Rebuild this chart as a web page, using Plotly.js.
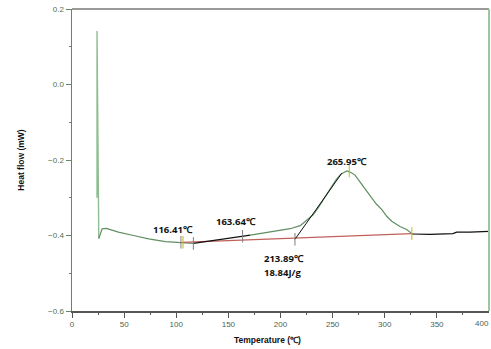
<!DOCTYPE html>
<html>
<head>
<meta charset="utf-8">
<script src="https://cdn.plot.ly/plotly-3.0.1.min.js"></script>
<style>html,body{margin:0;padding:0;background:#fff;}#chart{width:491px;height:349px;}</style>
</head>
<body>
<div id="chart"></div>
<script>
// DSC curve segments (Temperature ℃, Heat flow mW)
var spikeT = [24.0, 24.0, 25.7];
var spikeV = [-0.30, 0.142, -0.408];
var seg1T = [25.7, 28.9, 33, 44.5, 58.9, 73.6, 89.6, 102, 116.4];
var seg1V = [-0.408, -0.382, -0.381, -0.391, -0.400, -0.409, -0.416, -0.418, -0.421];
var seg2T = [116.4, 132.7, 147, 164, 171];
var seg2V = [-0.421, -0.414, -0.408, -0.402, -0.399];
var seg3T = [171, 180.5, 195, 209.3, 218.9, 225.3, 231.3, 236.1, 241.9, 247.6, 253.4, 258.1, 263.8, 266.8, 271.5, 278.3, 286, 291.7, 297.4, 301.9, 306.7, 314.6, 321, 326];
var seg3V = [-0.399, -0.395, -0.389, -0.382, -0.374, -0.360, -0.345, -0.327, -0.302, -0.274, -0.252, -0.237, -0.229, -0.232, -0.240, -0.266, -0.295, -0.316, -0.332, -0.349, -0.362, -0.376, -0.384, -0.395];
var seg4T = [326, 343.4, 365.4, 369, 381.8, 397.7, 400];
var seg4V = [-0.396, -0.397, -0.395, -0.391, -0.391, -0.389, -0.389];
// Baseline and tangent
var baseT = [105.5, 326];
var baseV = [-0.418, -0.395];
var tanT = [213.89, 258.8];
var tanV = [-0.410, -0.235];
// Marker ticks
var markBlackT = [104.5, 116.41, 163.64, 213.89];
var markBlackV = [-0.418, -0.421, -0.402, -0.410];
var markRedT = [106.5, 265.95, 326];
var markRedV = [-0.418, -0.229, -0.395];
// Labels
var labelText = ["116.41℃", "163.64℃", "265.95℃", "213.89℃", "18.84J/g"];
var labelT = [97.2, 157.6, 263.9, 182.5, 182.5];
var labelV = [-0.384, -0.362, -0.203, -0.461, -0.497];
var labelAnchor = ["center", "center", "center", "left", "left"];

var green = '#5f8f62';
var traces = [
  {x: spikeT, y: spikeV, mode: 'lines', line: {color: '#8fbf90', width: 1.4}},
  {x: seg1T, y: seg1V, mode: 'lines', line: {color: green, width: 1.2}},
  {x: baseT, y: baseV, mode: 'lines', line: {color: '#c0605a', width: 1.2}},
  {x: seg2T, y: seg2V, mode: 'lines', line: {color: '#111', width: 1.2}},
  {x: seg3T, y: seg3V, mode: 'lines', line: {color: green, width: 1.2}},
  {x: seg4T, y: seg4V, mode: 'lines', line: {color: '#111', width: 1.2}},
  {x: tanT, y: tanV, mode: 'lines', line: {color: '#111', width: 1.0}},
  {x: markBlackT, y: markBlackV, mode: 'markers', marker: {symbol: 'line-ns-open', size: 9, line: {color: '#111', width: 1}}},
  {x: markRedT, y: markRedV, mode: 'markers', marker: {symbol: 'line-ns-open', size: 9, line: {color: '#c0605a', width: 1}}}
];

var annotations = labelText.map(function (t, i) {
  return {x: labelT[i], y: labelV[i], xref: 'x', yref: 'y', text: '<b>' + t + '</b>', showarrow: false,
    xanchor: labelAnchor[i], yanchor: 'middle', font: {family: 'Open Sans, sans-serif', size: 9.5, color: '#111'}};
});
annotations.push({x: 400, y: 0, xref: 'x', yref: 'paper', yshift: -6, xshift: 2, text: '400', showarrow: false,
  xanchor: 'right', yanchor: 'top', font: {family: 'Liberation Sans, Arial, sans-serif', size: 8, color: '#4f5f4f'}});
annotations.push({x: 0.468, y: 0, xref: 'paper', yref: 'paper', yshift: -22, text: '<b>Temperature (℃)</b>', showarrow: false,
  xanchor: 'center', yanchor: 'top', font: {family: 'Liberation Sans, Arial, sans-serif', size: 8.5, color: '#111'}});

var layout = {
  width: 491, height: 349,
  margin: {l: 72, r: 2, t: 9, b: 38},
  paper_bgcolor: '#fff', plot_bgcolor: '#fff',
  showlegend: false,
  xaxis: {
    range: [0, 400], tickvals: [0, 50, 100, 150, 200, 250, 300, 350], showgrid: false, zeroline: false,
    showline: true, linecolor: '#555', linewidth: 1.5,
    ticks: 'outside', ticklen: 5, tickcolor: '#555', tickwidth: 1,
    minor: {tickvals: [25, 75, 125, 175, 225, 275, 325, 375], ticks: 'outside', ticklen: 2, tickcolor: '#555'},
    tickfont: {family: 'Liberation Sans, Arial, sans-serif', size: 8, color: '#4f5f4f'}
  },
  yaxis: {
    range: [-0.6, 0.2], dtick: 0.2, tick0: -0.6, tickformat: '.1f', showgrid: false, zeroline: false,
    showline: true, linecolor: '#5f8a68', linewidth: 1.5,
    ticks: 'outside', ticklen: 5, tickcolor: '#5f8a68', tickwidth: 1,
    minor: {dtick: 0.1, ticks: 'outside', ticklen: 2, tickcolor: '#5f8a68'},
    tickfont: {family: 'Liberation Sans, Arial, sans-serif', size: 8, color: '#4f6f4f'},
    title: {text: '<b>Heat flow (mW)</b>', standoff: 22, font: {family: 'Liberation Sans, Arial, sans-serif', size: 8.5, color: '#111'}}
  },
  shapes: [
    {type: 'line', xref: 'paper', yref: 'paper', x0: 0, x1: 1, y0: 1, y1: 1, line: {color: '#777', width: 1.5}},
    {type: 'line', xref: 'paper', yref: 'paper', x0: 1, x1: 1, y0: 0, y1: 1, line: {color: '#9cc79c', width: 2}}
  ],
  annotations: annotations
};

Plotly.newPlot('chart', traces, layout, {displayModeBar: false, staticPlot: true});
</script>
</body>
</html>
